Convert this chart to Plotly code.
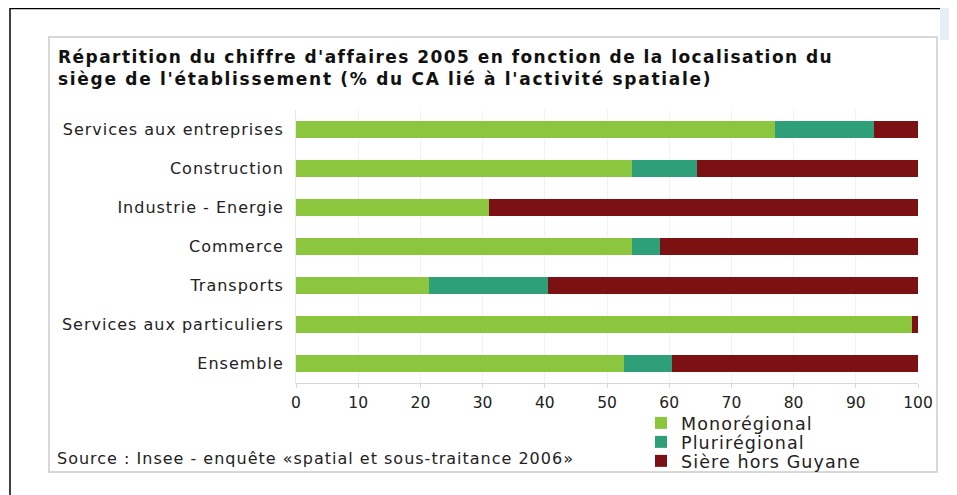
import plotly.graph_objects as go

categories = ["Services aux entreprises", "Construction", "Industrie - Energie",
              "Commerce", "Transports", "Services aux particuliers", "Ensemble"]
monoregional = [77.0, 54.0, 31.0, 54.0, 21.4, 99.0, 52.8]
pluriregional = [16.0, 10.5, 0.0, 4.6, 19.1, 0.0, 7.7]
hors_guyane = [7.0, 35.5, 69.0, 41.4, 59.5, 1.0, 39.5]

series = [
    ("Monorégional", monoregional, "#8cc63f"),
    ("Plurirégional", pluriregional, "#2e9f78"),
    ("Sière hors Guyane", hors_guyane, "#7b1113"),
]

font = "DejaVu Sans, Verdana, sans-serif"

# the page body has an 8px margin, so the figure is 8px smaller than the window
W, H = 949, 487
L, R, T, B = 288, 39, 102, 112
pw, ph = W - L - R, H - T - B


def px(fx):
    return (fx - L) / pw


def py(fy):
    return (H - B - fy) / ph


def spaced(s, sp):
    # the source picture's lettering is wide, widen ours a little
    return '<span style="letter-spacing:%spx">%s</span>' % (sp, s)


fig = go.Figure()
legend_y = [415, 434, 453]
for i, (name, vals, col) in enumerate(series):
    lg = "legend" if i == 0 else "legend%d" % (i + 1)
    fig.add_trace(go.Bar(
        y=categories, x=vals, name=spaced(name, 1.1), orientation="h",
        marker=dict(color=col, line=dict(width=0)),
        legend=lg,
    ))

legend_common = dict(xanchor="left", yanchor="middle", bgcolor="rgba(0,0,0,0)",
                     itemwidth=30, font=dict(size=17.5, family=font, color="#222"))
layout_legends = {}
for i, fy in enumerate(legend_y):
    key = "legend" if i == 0 else "legend%d" % (i + 1)
    layout_legends[key] = dict(x=px(633), y=py(fy), **legend_common)

title = (spaced("Répartition du chiffre d'affaires 2005 en fonction de la localisation du", 1.45)
         + "<br>" + spaced("siège de l'établissement (% du CA lié à l'activité spatiale)", 1.7))

fig.update_layout(
    width=W, height=H,
    barmode="stack", bargap=0.57,
    paper_bgcolor="white", plot_bgcolor="white",
    margin=dict(l=L, r=R, t=T, b=B),
    font=dict(family=font, size=15, color="#333333"),
    showlegend=True,
    annotations=[
        dict(text="<b>" + title + "</b>",
             xref="paper", yref="paper", x=px(48), y=py(37), xanchor="left", yanchor="top",
             showarrow=False, align="left",
             font=dict(size=17, family=font, color="#111")),
        dict(text=spaced("Source : Insee - enquête «spatial et sous-traitance 2006»", 1),
             xref="paper", yref="paper", x=px(47), y=py(450), xanchor="left", yanchor="middle",
             showarrow=False, align="left",
             font=dict(size=16, family=font, color="#222")),
    ],
    shapes=[
        # outer black frame
        dict(type="line", xref="paper", yref="paper", x0=px(2), x1=px(932), y0=py(0.5), y1=py(0.5),
             line=dict(color="black", width=1.5)),
        dict(type="line", xref="paper", yref="paper", x0=px(2), x1=px(2), y0=py(0), y1=py(H),
             line=dict(color="black", width=1.5)),
        # light blue corner shade
        dict(type="rect", xref="paper", yref="paper", x0=px(932), x1=px(W), y0=py(0), y1=py(32),
             line=dict(width=0), fillcolor="#e6edf7", layer="below"),
        # inner gray box
        dict(type="rect", xref="paper", yref="paper", x0=px(41), x1=px(929), y0=py(29), y1=py(464),
             line=dict(color="#cccccc", width=1.5), fillcolor="rgba(0,0,0,0)", layer="below"),
    ],
    **layout_legends,
)

fig.update_xaxes(range=[0, 100], dtick=10, tick0=0,
                 showgrid=True, gridcolor="#f2f2f2", gridwidth=1,
                 showline=True, linecolor="#d9d9d9", linewidth=1,
                 ticks="outside", tickcolor="#d9d9d9", ticklen=4,
                 ticklabelstandoff=1,
                 tickfont=dict(size=15.5, family=font, color="#222"),
                 zeroline=False)
fig.update_yaxes(autorange="reversed", showgrid=False,
                 showline=True, linecolor="#e8e8e8", linewidth=1,
                 ticks="", ticklabelstandoff=8,
                 tickvals=categories, ticktext=[spaced(c, 1) for c in categories],
                 tickfont=dict(size=16, family=font, color="#222"))

fig.write_html("out.html")
